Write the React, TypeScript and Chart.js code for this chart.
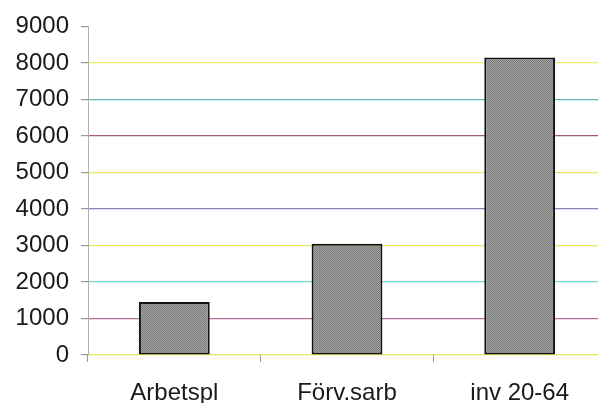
import React, { useEffect, useRef } from "react";
import { Chart, registerables } from "chart.js";

Chart.register(...registerables);

const categories = ["Arbetspl", "Förv.sarb", "inv 20-64"];
const values = [1450, 3050, 8150];
const yTicks = [0, 1000, 2000, 3000, 4000, 5000, 6000, 7000, 8000, 9000];
const gridColors = ["#e8e860", "#b07098", "#70d8d0", "#e8e860", "#8a80b8", "#e8e860", "#a05880", "#60b8c0", "#eeee70", "rgba(0,0,0,0)"];

function makePattern(): CanvasPattern | string {
  const c = document.createElement("canvas");
  c.width = 2;
  c.height = 2;
  const g = c.getContext("2d");
  if (!g) return "#8c8c8c";
  g.fillStyle = "#a6a6a6";
  g.fillRect(0, 0, 2, 2);
  g.fillStyle = "#7a7a7a";
  g.fillRect(0, 0, 1, 1);
  g.fillRect(1, 1, 1, 1);
  const p = g.createPattern(c, "repeat");
  return p || "#8c8c8c";
}

export default function App() {
  const ref = useRef<HTMLCanvasElement | null>(null);
  useEffect(() => {
    document.body.style.margin = "0";
    document.body.style.overflow = "hidden";
    const ctx = ref.current!.getContext("2d")!;
    const chart = new Chart(ctx, {
      type: "bar",
      data: {
        labels: categories,
        datasets: [
          {
            data: values,
            backgroundColor: makePattern() as any,
            borderColor: "#111",
            borderWidth: 2,
            borderSkipped: false,
            categoryPercentage: 1,
            barPercentage: 0.41,
          },
        ],
      },
      options: {
        animation: false,
        responsive: false,
        maintainAspectRatio: false,
        layout: { padding: { top: 26, right: 0, bottom: 0, left: 0 } },
        plugins: { legend: { display: false }, tooltip: { enabled: false } },
        scales: {
          x: {
            offset: true,
            grid: {
              offset: true,
              drawOnChartArea: false,
              tickLength: 7,
              tickColor: "#9a9a9a",
            },
            border: { display: false },
            ticks: {
              color: "#1a1a1a",
              padding: 17,
              font: { family: "'Liberation Sans', Arial, sans-serif", size: 24 },
            },
            afterFit: (s: any) => {
              s.height = 403 - 355;
            },
          },
          y: {
            min: 0,
            max: 9000,
            afterBuildTicks: (s: any) => {
              s.ticks = yTicks.map((v) => ({ value: v }));
            },
            grid: {
              color: (c: any) => gridColors[yTicks.indexOf(c.tick?.value)] || "#ddd",
              lineWidth: 1.2,
              tickLength: 7,
              tickColor: "#9a9a9a",
            },
            border: { display: true, color: "#b0b0b0", width: 1 },
            ticks: {
              color: "#1a1a1a",
              padding: 12,
              callback: (v: any) => String(v),
              font: { family: "'Liberation Sans', Arial, sans-serif", size: 24 },
            },
            afterFit: (s: any) => {
              s.width = 88;
            },
          },
        },
      },
    });
    return () => chart.destroy();
  }, []);
  return (
    <div style={{ width: 598, height: 403, overflow: "hidden", position: "relative" }}>
      <canvas ref={ref} width={606} height={403} style={{ display: "block" }} />
    </div>
  );
}
